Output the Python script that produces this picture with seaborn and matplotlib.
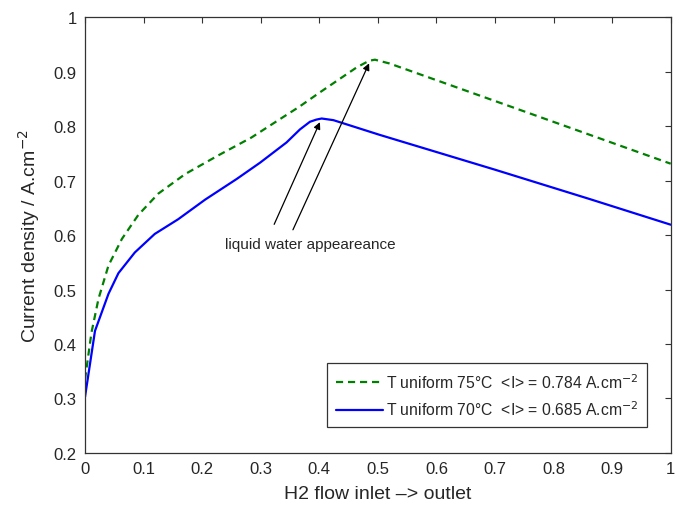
import matplotlib
matplotlib.use("Agg")
import matplotlib.pyplot as plt
import seaborn as sns
import pandas as pd

sns.set_theme(style="white")
plt.rcParams['font.family'] = ['Liberation Sans', 'DejaVu Sans']

# Data
x_75 = [0.0, 0.011, 0.023, 0.040, 0.063, 0.091, 0.125, 0.171, 0.227, 0.284, 0.333, 0.365, 0.401, 0.464, 0.485, 0.495, 0.52, 0.75, 1.0]
y_75 = [0.335, 0.421, 0.483, 0.544, 0.593, 0.637, 0.676, 0.712, 0.746, 0.779, 0.813, 0.835, 0.862, 0.908, 0.920, 0.922, 0.915, 0.827, 0.731]
x_70 = [0.0, 0.017, 0.040, 0.057, 0.085, 0.119, 0.159, 0.205, 0.259, 0.299, 0.344, 0.367, 0.384, 0.395, 0.404, 0.424, 0.503, 0.70, 0.862, 1.0]
y_70 = [0.303, 0.424, 0.492, 0.530, 0.568, 0.602, 0.629, 0.665, 0.703, 0.733, 0.770, 0.794, 0.808, 0.812, 0.814, 0.811, 0.784, 0.720, 0.666, 0.619]
labels = ["T uniform 75\u00b0C  <I> = 0.784 A.cm$^{-2}$",
          "T uniform 70\u00b0C  <I> = 0.685 A.cm$^{-2}$"]
annot_text = "liquid water appeareance"

df75 = pd.DataFrame({"x": x_75, "y": y_75})
df70 = pd.DataFrame({"x": x_70, "y": y_70})

fig = plt.figure(figsize=(6.83, 5.06), dpi=100)
ax = fig.add_axes([0.1245, 0.103, 0.8575, 0.861])

sns.lineplot(data=df75, x="x", y="y", ax=ax, color="#008000", linestyle=(0, (3.2, 2.2)),
             linewidth=1.6, label=labels[0], sort=False)
sns.lineplot(data=df70, x="x", y="y", ax=ax, color="#0000ff", linestyle="-",
             linewidth=1.6, label=labels[1], sort=False)

ax.set_xlim(0, 1)
ax.set_ylim(0.2, 1.0)
ax.set_xticks([0, 0.1, 0.2, 0.3, 0.4, 0.5, 0.6, 0.7, 0.8, 0.9, 1])
ax.set_xticklabels(["0", "0.1", "0.2", "0.3", "0.4", "0.5", "0.6", "0.7", "0.8", "0.9", "1"])
ax.set_yticks([0.2, 0.3, 0.4, 0.5, 0.6, 0.7, 0.8, 0.9, 1.0])
ax.set_yticklabels(["0.2", "0.3", "0.4", "0.5", "0.6", "0.7", "0.8", "0.9", "1"])
ax.tick_params(direction="in", top=True, right=True, length=4, width=0.8,
               labelsize=12, color="#333333", pad=6)
for s in ax.spines.values():
    s.set_color("#333333")
    s.set_linewidth(0.9)

ax.set_xlabel("H2 flow inlet \u2013> outlet", fontsize=14, labelpad=6)
ax.set_ylabel("Current density / A.cm$^{-2}$", fontsize=14, labelpad=8)

ax.annotate("", xy=(0.403, 0.812), xytext=(0.321, 0.615),
            arrowprops=dict(arrowstyle="-|>", color="black", lw=0.9, mutation_scale=10))
ax.annotate("", xy=(0.487, 0.920), xytext=(0.353, 0.605),
            arrowprops=dict(arrowstyle="-|>", color="black", lw=0.9, mutation_scale=10))
ax.text(0.384, 0.583, annot_text, ha="center", va="center", fontsize=11)

leg = ax.legend(loc="lower right", bbox_to_anchor=(0.96, 0.06), fontsize=11.3,
                frameon=True, fancybox=False, edgecolor="black", handlelength=3.0,
                borderpad=0.55, labelspacing=0.55, handletextpad=0.2, borderaxespad=0)
leg.get_frame().set_linewidth(0.9)

fig.savefig("out.png", dpi=100)
